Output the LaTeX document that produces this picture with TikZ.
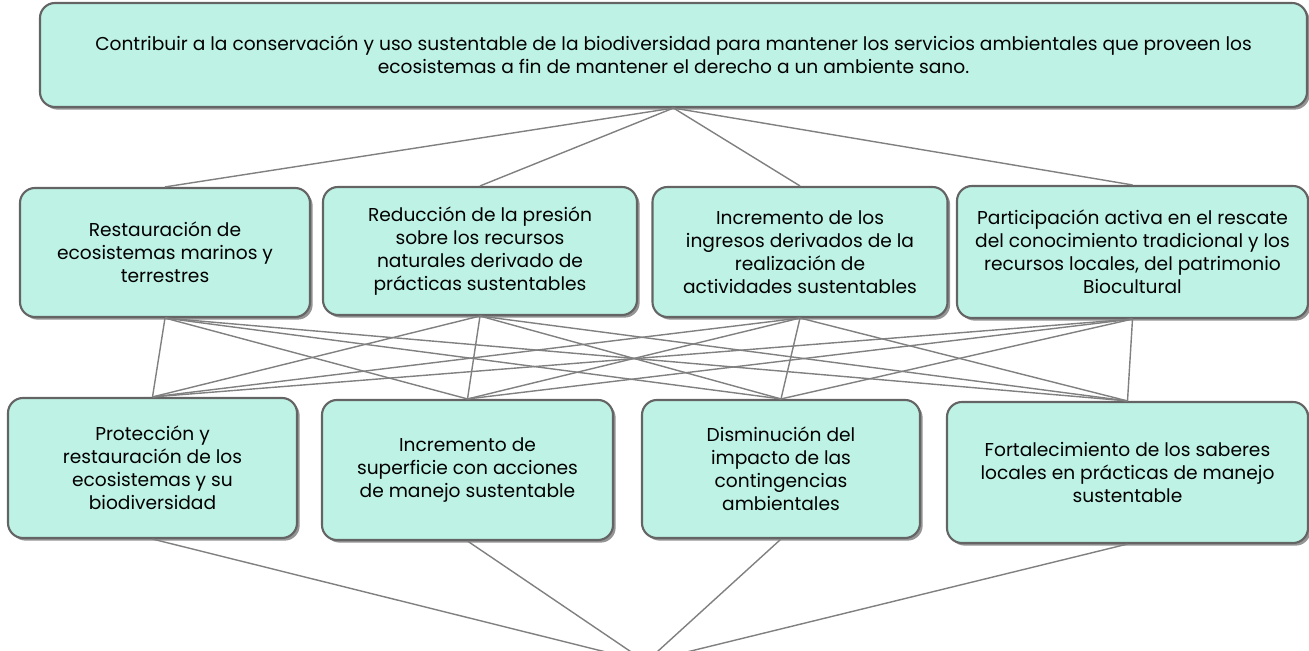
\documentclass[tikz,border=0pt]{standalone}
\usepackage{fontspec}
\setmainfont{Poppins}
\usetikzlibrary{shadows}
\definecolor{aqua}{HTML}{BDF2E5}
\definecolor{borde}{HTML}{646464}
\definecolor{linea}{HTML}{808080}
\begin{document}
\begin{tikzpicture}[x=0.2mm,y=-0.2mm,
	caja/.style={draw=borde, line width=1.2pt, fill=aqua, rounded corners=3mm, align=center,
		font=\fontsize{10.6}{13}\selectfont,
		drop shadow={shadow xshift=1.5pt, shadow yshift=-1.5pt, fill=black!60, opacity=0.7}},
	enlace/.style={draw=linea, line width=0.8pt}]
	\useasboundingbox (0,0) rectangle (1309,651);
	
	% fin
	\node[caja, minimum width=253.4mm, minimum height=20.8mm] (fin) at (673.5,55) {Contribuir a la conservación y uso sustentable de la biodiversidad para mantener los servicios ambientales que proveen los\\ecosistemas a fin de mantener el derecho a un ambiente sano.};
	
	% propositos
	\node[caja, minimum width=58mm, minimum height=25.8mm] (p1) at (165,252.5) {Restauración de\\ecosistemas marinos y\\terrestres};
	\node[caja, minimum width=62.8mm, minimum height=25.6mm] (p2) at (480,251) {Reducción de la presión\\sobre los recursos\\naturales derivado de\\prácticas sustentables};
	\node[caja, minimum width=59mm, minimum height=26mm] (p3) at (800,252) {Incremento de los\\ingresos derivados de la\\realización de\\actividades sustentables};
	\node[caja, minimum width=70.2mm, minimum height=26.4mm] (p4) at (1132.5,252) {Participación activa en el rescate\\del conocimiento tradicional y los\\recursos locales, del patrimonio\\Biocultural};
	
	% componentes
	\node[caja, minimum width=57.8mm, minimum height=28mm] (c1) at (152.5,468) {Protección y\\restauración de los\\ecosistemas y su\\biodiversidad};
	\node[caja, minimum width=58.2mm, minimum height=28mm] (c2) at (467.5,470) {Incremento de\\superficie con acciones\\de manejo sustentable};
	\node[caja, minimum width=55.6mm, minimum height=27.6mm] (c3) at (781,469) {Disminución del\\impacto de las\\contingencias\\ambientales};
	\node[caja, minimum width=72.2mm, minimum height=28.2mm] (c4) at (1127.5,472.5) {Fortalecimiento de los saberes\\locales en prácticas de manejo\\sustentable};
	
	\coordinate (base) at (646,662);
	
	\foreach \p in {p1,p2,p3,p4}
		\draw[enlace] (fin.south) -- (\p.north);
	\foreach \p in {p1,p2,p3,p4}
		\foreach \c in {c1,c2,c3,c4}
			\draw[enlace] (\p.south) -- (\c.north);
	\foreach \c in {c1,c2,c3,c4}
		\draw[enlace] (\c.south) -- (base);
\end{tikzpicture}
\end{document}
